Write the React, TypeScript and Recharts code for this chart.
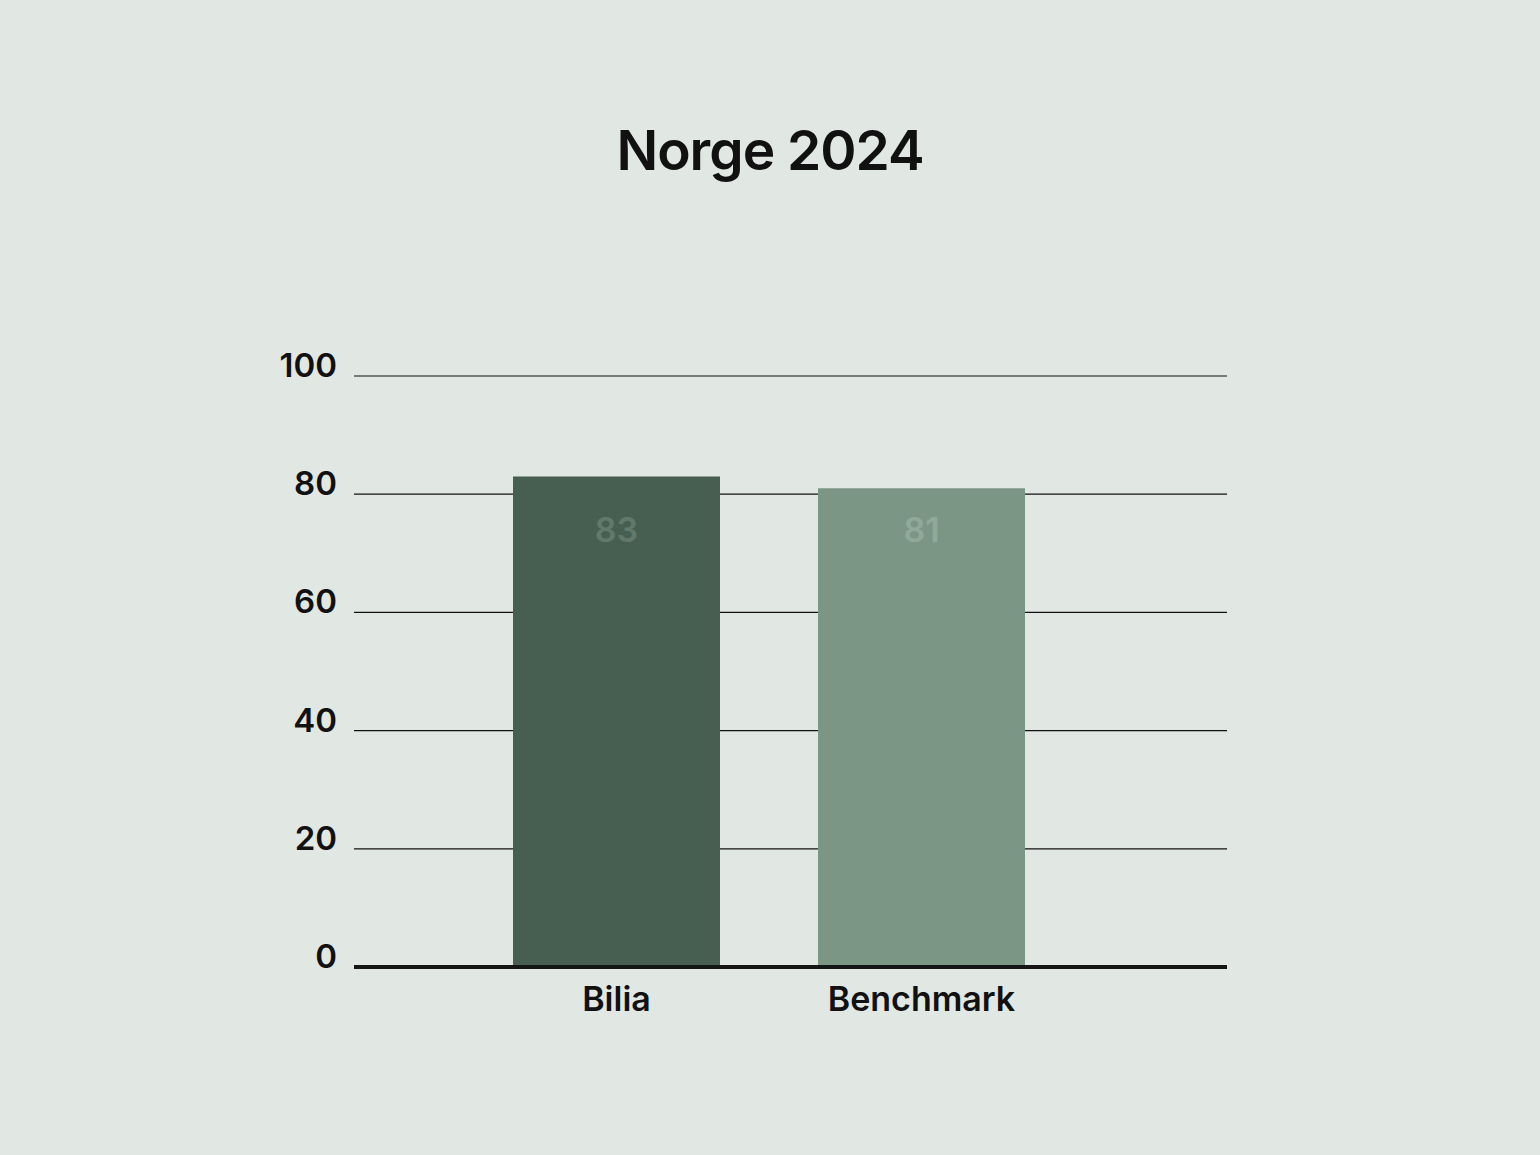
import React from 'react';
import { BarChart, Bar, XAxis, YAxis, CartesianGrid, Cell, LabelList } from 'recharts';

const categories = ['Bilia', 'Benchmark'];
const scores = [83, 81];
const yTicks = [0, 20, 40, 60, 80, 100];
// value labels all sit on one line, at about this score level
const LABEL_LEVEL = 74;

const BAR_COLORS = ['#465f51', '#7c9686'];
const LABEL_COLORS = ['#60796b', '#91a999'];
const FONT = 'Inter, Lato, sans-serif';

const data = categories.map((name, i) => ({ name, value: scores[i] }));

const YTick = (props: any) => {
  const { x, y, payload } = props;
  return (
    <text x={x} y={y - 11} textAnchor="end" dominantBaseline="central"
      fontSize={33} fontFamily={FONT} fontWeight={600} fill="#111">
      {payload.value}
    </text>
  );
};

const XTick = (props: any) => {
  const { x, payload } = props;
  return (
    <text x={x} y={998} textAnchor="middle" dominantBaseline="central"
      fontSize={34} fontFamily={FONT} fontWeight={600} fill="#111">
      {payload.value}
    </text>
  );
};

const ValueLabel = (props: any) => {
  const { x, y, width, height, value, index } = props;
  const base = y + height;
  const ly = base - (height * LABEL_LEVEL) / value;
  return (
    <text x={x + width / 2} y={ly} textAnchor="middle" dominantBaseline="central"
      fontSize={34} fontFamily={FONT} fontWeight={600} fill={LABEL_COLORS[index]}>
      {value}
    </text>
  );
};

export default function App() {
  return (
    <div style={{ position: 'absolute', left: 0, top: 0, width: 1540, height: 1155, background: '#e1e7e2' }}>
      <div style={{
        position: 'absolute', top: 112, left: 0, width: 1540, textAlign: 'center',
        fontFamily: FONT, fontSize: 55, fontWeight: 600, color: '#111', lineHeight: '76px',
        letterSpacing: -1,
      }}>
        Norge 2024
      </div>
      <BarChart width={1540} height={1155} data={data}
        margin={{ top: 376, right: 313, bottom: 0, left: 0 }}>
        <CartesianGrid vertical={false} stroke="#111" strokeWidth={1.2} />
        <XAxis dataKey="name" height={188} padding={{ left: 110, right: 153 }}
          axisLine={{ stroke: '#161616', strokeWidth: 4 }} tickLine={false} tick={<XTick />} />
        <YAxis width={354} domain={[0, 100]} ticks={yTicks} axisLine={false} tickLine={false}
          tickMargin={11} tick={<YTick />} />
        <Bar dataKey="value" barSize={207} isAnimationActive={false}>
          {data.map((d, i) => (
            <Cell key={d.name} fill={BAR_COLORS[i]} />
          ))}
          <LabelList dataKey="value" content={<ValueLabel />} />
        </Bar>
      </BarChart>
    </div>
  );
}
